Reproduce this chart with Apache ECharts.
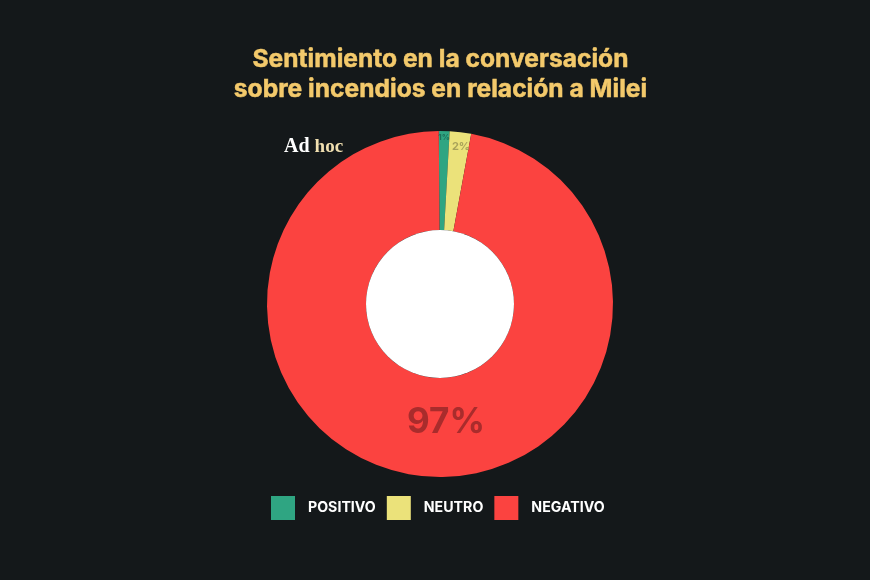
<!DOCTYPE html>
<html>
<head>
<meta charset="utf-8">
<style>
  html, body { margin: 0; padding: 0; background: #14181a; }
  #chart { width: 870px; height: 580px; }
</style>
<script src="https://cdn.jsdelivr.net/npm/echarts@6/dist/echarts.min.js"></script>
</head>
<body>
<div id="chart"></div>
<script>
// Data
const categories = ['POSITIVO', 'NEUTRO', 'NEGATIVO'];
const shares = [1, 2, 97];
const sliceColors = ['#2fa582', '#ebe27a', '#fb4340'];
const labelColors = ['#1d6f58', '#a8a25a', '#a92c2c'];
const labelSizes = [8, 11, 35];
const titleLines = ['Sentimiento en la conversación', 'sobre incendios en relación a Milei'];

// label nudges from the ring's mid radius
const labelShift = [[1, -40], [6, -32], [17, -8]];

const chart = echarts.init(document.getElementById('chart'), null, { renderer: 'canvas' });

chart.setOption({
    animation: false,
    backgroundColor: '#14181a',
    title: [
        {
            text: titleLines.join('\n'),
            left: 435.5,
            top: 40,
            textAlign: 'center',
            textStyle: {
                color: '#f3c96b',
                fontFamily: 'Inter',
                fontWeight: 700,
                fontSize: 24.6,
                lineHeight: 30,
                textBorderColor: '#f3c96b',
                textBorderWidth: 0.5
            }
        },
        {
            text: '{a|Ad} {b|hoc}',
            left: 279,
            top: 132,
            textStyle: {
                rich: {
                    a: { color: '#ffffff', fontFamily: 'Liberation Serif', fontWeight: 700, fontSize: 20 },
                    b: { color: '#f0dfb0', fontFamily: 'Liberation Serif', fontWeight: 700, fontSize: 19 }
                }
            }
        }
    ],
    legend: {
        data: categories,
        left: 266,
        top: 491,
        itemWidth: 24,
        itemHeight: 24,
        itemGap: 11,
        icon: 'rect',
        selectedMode: false,
        textStyle: {
            color: '#ffffff',
            fontFamily: 'Inter',
            fontWeight: 700,
            fontSize: 14.2,
            padding: [0, 0, 0, 8]
        }
    },
    graphic: [{
        type: 'circle',
        z: 10,
        silent: true,
        shape: { cx: 440, cy: 304, r: 74 },
        style: { fill: '#ffffff' }
    }],
    series: [{
        type: 'pie',
        center: [440, 304],
        radius: [74, 173],
        startAngle: 90.4,
        clockwise: true,
        silent: true,
        data: categories.map((name, i) => ({
            name: name,
            value: shares[i],
            itemStyle: { color: sliceColors[i] },
            label: { color: labelColors[i], fontSize: labelSizes[i] }
        })),
        label: {
            show: true,
            position: 'inside',
            formatter: '{c}%',
            fontFamily: 'Inter',
            fontWeight: 700
        },
        labelLine: { show: false },
        labelLayout: params => ({
            dx: labelShift[params.dataIndex][0],
            dy: labelShift[params.dataIndex][1]
        })
    }]
});
</script>
</body>
</html>
